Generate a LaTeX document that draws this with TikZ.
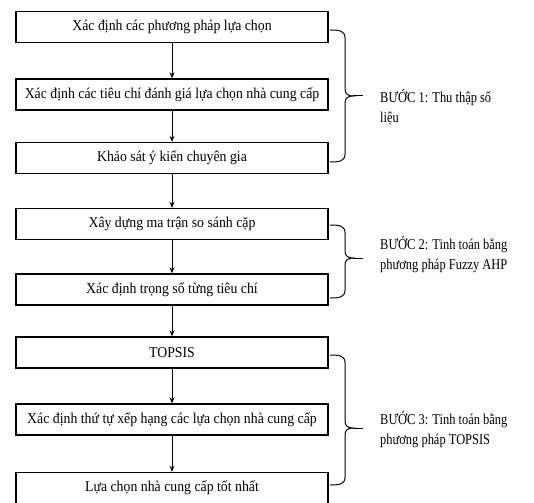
\documentclass[tikz,border=0pt]{standalone}
\usepackage{fontspec}
\setmainfont{Liberation Serif}
\newfontfamily\boxfont[FakeStretch=0.92]{Liberation Serif}
\newfontfamily\labfont[FakeStretch=0.83]{Liberation Serif}
\usetikzlibrary{arrows.meta}
\begin{document}
\begin{tikzpicture}[x=1pt,y=-1pt,
  stepbox/.style={draw,line width=1.4pt,minimum width=312pt,minimum height=31pt,inner sep=0pt,font=\boxfont\fontsize{15}{17}\selectfont},
  flow/.style={line width=0.9pt,-{Stealth[length=6pt,width=5pt]}},
  bracel/.style={line width=1pt},
  steplabel/.style={anchor=west,align=left,inner sep=0pt,font=\labfont\fontsize{15}{20}\selectfont}]
\useasboundingbox (0,0) rectangle (534,502);
\node[stepbox] (b1) at (172,27) {Xác định các phương pháp lựa chọn};
\node[stepbox] (b2) at (172,94.5) {Xác định các tiêu chí đánh giá lựa chọn nhà cung cấp};
\node[stepbox] (b3) at (172,158) {Khảo sát ý kiến chuyên gia};
\node[stepbox] (b4) at (172,224) {Xây dựng ma trận so sánh cặp};
\node[stepbox] (b5) at (172,289.5) {Xác định trọng số từng tiêu chí};
\node[stepbox] (b6) at (172,352.5) {TOPSIS};
\node[stepbox] (b7) at (172,419.5) {Xác định thứ tự xếp hạng các lựa chọn nhà cung cấp};
\node[stepbox] (b8) at (172,488) {Lựa chọn nhà cung cấp tốt nhất};
\foreach \a/\b in {b1/b2,b2/b3,b3/b4,b4/b5,b5/b6,b6/b7,b7/b8}
  \draw[flow] (\a.south) -- (\b.north);
% braces
\foreach \ya/\ym/\yb/\n in {30/96/162/1,225/258/298/2,355/428/485/3}{
  \coordinate (t\n) at (363,\ym);
  \draw[bracel] (330,\ya) .. controls (340,\ya) and (345,\ya+1) .. (345,\ya+8)
     -- (345,\ym-7) .. controls (345,\ym-2) and (348,\ym) .. (353,\ym)
     .. controls (348,\ym) and (345,\ym+2) .. (345,\ym+7)
     -- (345,\yb-8) .. controls (345,\yb-1) and (340,\yb) .. (330,\yb);
  \draw[bracel] (353,\ym) -- (t\n);
}
\node[steplabel] (l1) at (380,107) {BƯỚC 1: Thu thập số\\liệu};
\node[steplabel] (l2) at (380,255) {BƯỚC 2: Tinh toán bằng\\phương pháp Fuzzy AHP};
\node[steplabel] (l3) at (380,430) {BƯỚC 3: Tinh toán bằng\\phương pháp TOPSIS};
\end{tikzpicture}
\end{document}
